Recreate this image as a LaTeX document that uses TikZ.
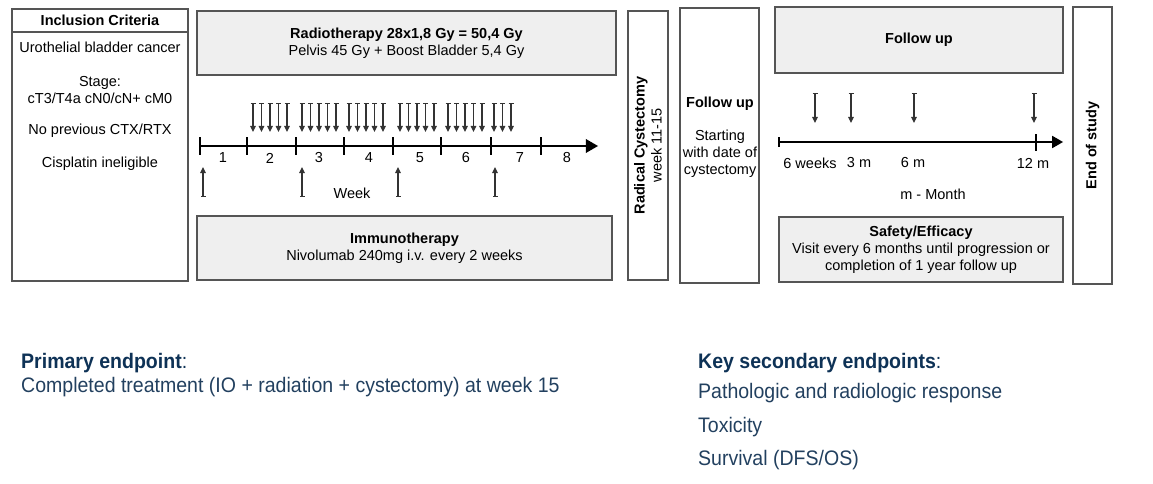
\documentclass[tikz,border=0pt]{standalone}
\usepackage{fontspec}
\setmainfont{Liberation Sans}
\newfontfamily\narrowfont[FakeStretch=0.93]{Liberation Sans}
\usepackage{tikz}
\usetikzlibrary{arrows}
\usetikzlibrary{arrows.meta}
\usetikzlibrary{positioning}
\definecolor{boxgray}{HTML}{EFEFEF}
\definecolor{boxline}{HTML}{555555}
\definecolor{endblue}{HTML}{22405F}
\definecolor{headblue}{HTML}{0E3256}
\tikzset{%
  mybox/.style={draw=boxline, line width=1.3pt, inner sep=0pt},
  mygraybox/.style={mybox, fill=boxgray},
  mytext/.style={font=\fontsize{14.5}{17}\selectfont, align=center, inner sep=0pt},
  myaxis/.style={->, line width=2.4pt, >=triangle 60},
  mytick/.style={line width=2.4pt},
  myshot/.style={{Bar[width=5pt]}-{Triangle[width=5.5pt,length=6pt]}, line width=1.1pt, black!80},
  myendhead/.style={font=\narrowfont\fontsize{21}{25}\selectfont, text=headblue, anchor=west, inner sep=0pt},
  myendtext/.style={font=\narrowfont\fontsize{21}{25}\selectfont, text=endblue, anchor=west, inner sep=0pt}
}

\begin{document}
\begin{tikzpicture}[x=1pt, y=-1pt]
  \useasboundingbox (0,0) rectangle (1153,484);

  % inclusion criteria
  \node[mybox, minimum width=176, minimum height=272] (incl) at (100,145) {};
  \coordinate (hl) at (12,32);
  \draw[boxline, line width=1.3pt] (incl.west |- hl) -- (incl.east |- hl);
  \node[mytext] (inclhead) at (100,20) {\textbf{Inclusion Criteria}};
  \node[mytext] (c1) at (100,47) {Urothelial bladder cancer};
  \node[mytext] (c2) at (100,90) {Stage:\\cT3/T4a cN0/cN+ cM0};
  \node[mytext] (c3) at (100,131) {No previous CTX/RTX};
  \node[mytext] (c4) at (100,164) {Cisplatin ineligible};

  % treatment boxes
  \node[mygraybox, minimum width=419, minimum height=64, mytext] (radio) at (406.5,43)
    {\textbf{Radiotherapy 28x1,8 Gy = 50,4 Gy}\\Pelvis 45 Gy + Boost Bladder 5,4 Gy};
  \node[mygraybox, minimum width=415, minimum height=64, mytext] (immuno) at (404.5,248)
    {\textbf{Immunotherapy}\\Nivolumab 240mg i.v. every 2 weeks};

  % week axis
  \coordinate (w0) at (200,146);
  \coordinate (wend) at (598,146);
  \draw[myaxis] (w0) -- (wend);
  \foreach \x in {200,247,296,344,393,441,491,541}
    \draw[mytick] (\x,137) -- (\x,155);
  \foreach \x/\w in {223/1,270/2,319/3,369/4,420/5,466/6,520/7,567/8}
    \node[mytext] (wk\w) at (\x,158) {\w};
  \node[mytext] (week) at (352,193) {Week};

  % radiation fractions
  \foreach \s/\n in {253/5,302/5,349/5,400/5,448/5,494/3}
    \foreach \k in {1,...,\n} {
      \coordinate (ft) at ({\s+(\k-1)*8.5},103);
      \coordinate (fb) at ({\s+(\k-1)*8.5},132);
      \draw[myshot] (ft) -- (fb);
    }

  % nivolumab doses
  \foreach \x [count=\i] in {203,302,398,495} {
    \coordinate (nb\i) at (\x,197);
    \coordinate (nt\i) at (\x,167);
    \draw[myshot] (nb\i) -- (nt\i);
  }

  % surgery and follow up
  \node[mybox, minimum width=40, minimum height=269] (cyst) at (648,145.5) {};
  \node[mytext, rotate=90] (cysttext) at (cyst) {\textbf{Radical Cystectomy}\\week 11-15};
  \node[mybox, minimum width=79, minimum height=275] (fu) at (719.5,145.5) {};
  \node[mytext] (futitle) at (720,104) {\textbf{Follow up}};
  \node[mytext] (futext) at (720,154) {Starting\\with date of\\cystectomy};

  \node[mygraybox, minimum width=288, minimum height=66, mytext] (fubox) at (919,40)
    {\textbf{Follow up}};
  \node[mygraybox, minimum width=284, minimum height=65, mytext] (safety) at (921,249.5)
    {\textbf{Safety/Efficacy}\\Visit every 6 months until progression or\\completion of 1 year follow up};

  % follow up axis
  \coordinate (m0) at (779,142);
  \coordinate (mend) at (1063,142);
  \draw[myaxis, line width=2pt] (m0) -- (mend);
  \draw[line width=1.5pt] (779,137) -- (779,147);
  \draw[mytick] (1036,134) -- (1036,151);
  \foreach \x in {815,851,914,1034} {
    \coordinate (vt) at (\x,93);
    \coordinate (vb) at (\x,123);
    \draw[myshot] (vt) -- (vb);
  }
  \foreach \x/\t in {810/6 weeks,859/3 m,913/6 m,1033/12 m}
    \node[mytext] at (\x,163) {\t};
  \node[mytext] (month) at (933,194) {m - Month};

  \node[mybox, minimum width=39, minimum height=277] (eos) at (1092.5,145.5) {};
  \node[mytext, rotate=90] (eostext) at (eos) {\textbf{End of study}};

  % endpoints
  \node[myendhead] (prim) at (21,363) {\textbf{Primary endpoint}:};
  \node[myendtext] (prim1) at (21,387) {Completed treatment (IO + radiation + cystectomy) at week 15};
  \node[myendhead] (sec) at (698,363) {\textbf{Key secondary endpoints}:};
  \node[myendtext] (sec1) at (698,393) {Pathologic and radiologic response};
  \node[myendtext] (sec2) at (698,427) {Toxicity};
  \node[myendtext] (sec3) at (698,460) {Survival (DFS/OS)};
\end{tikzpicture}
\end{document}
